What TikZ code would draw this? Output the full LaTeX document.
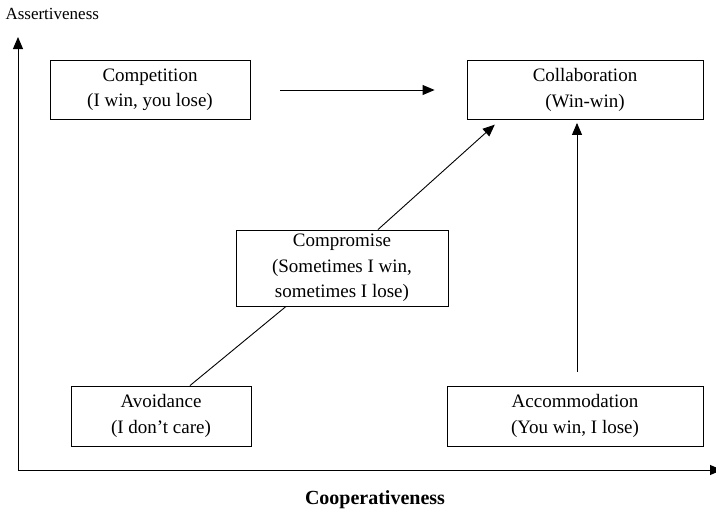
\documentclass[tikz,border=0pt]{standalone}
\usepackage{fontspec}
\setmainfont{Liberation Serif}
\usetikzlibrary{arrows.meta}
\tikzset{
  stylebox/.style={draw, line width=0.9pt, align=center, inner sep=0pt,
    font=\fontsize{19}{25.5}\selectfont},
  axislabel/.style={font=\fontsize{17}{19}\selectfont},
  tip/.style={-{Triangle[length=12pt,width=10pt]}}
}
\begin{document}
\begin{tikzpicture}[x=1pt,y=-1pt]
\useasboundingbox (0,0) rectangle (716,515);
\node[axislabel, anchor=west] (asslabel) at (2,14) {Assertiveness};
\node[axislabel, font=\fontsize{20}{22}\selectfont\bfseries] (coolabel) at (375,500) {Cooperativeness};
\coordinate (origin) at (18,470);
\coordinate (ytop) at (18,37);
\coordinate (xend) at (722,470);
\node[stylebox, minimum width=200pt, minimum height=59pt] (compet) at (150,90) {Competition\\(I win, you lose)};
\node[stylebox, minimum width=236pt, minimum height=59pt] (collab) at (585,90) {Collaboration\\(Win-win)};
\node[stylebox, minimum width=212pt, minimum height=76pt] (compro) at (342,268) {Compromise\\(Sometimes I win,\\sometimes I lose)};
\node[stylebox, minimum width=180pt, minimum height=60pt] (avoid) at (161,416) {Avoidance\\(I don't care)};
\node[stylebox, minimum width=256pt, minimum height=60pt] (accom) at (575,416) {Accommodation\\(You win, I lose)};
\draw[tip, line width=0.9pt] (origin) -- (ytop);
\draw[tip, line width=0.9pt] (origin) -- (xend);
\draw[tip, line width=0.9pt, shorten <=30pt, shorten >=32pt] (compet.east) -- (collab.west);
\draw[line width=0.9pt] (avoid.north -| 190,0) -- (compro.south -| 286,0);
\draw[tip, line width=0.9pt, shorten >=7pt] (compro.north -| 378,0) -- (collab.south -| 500,0);
\draw[tip, line width=0.9pt, shorten <=14pt, shorten >=3pt] (accom.north -| 577,0) -- (collab.south -| 577,0);
\end{tikzpicture}
\end{document}
